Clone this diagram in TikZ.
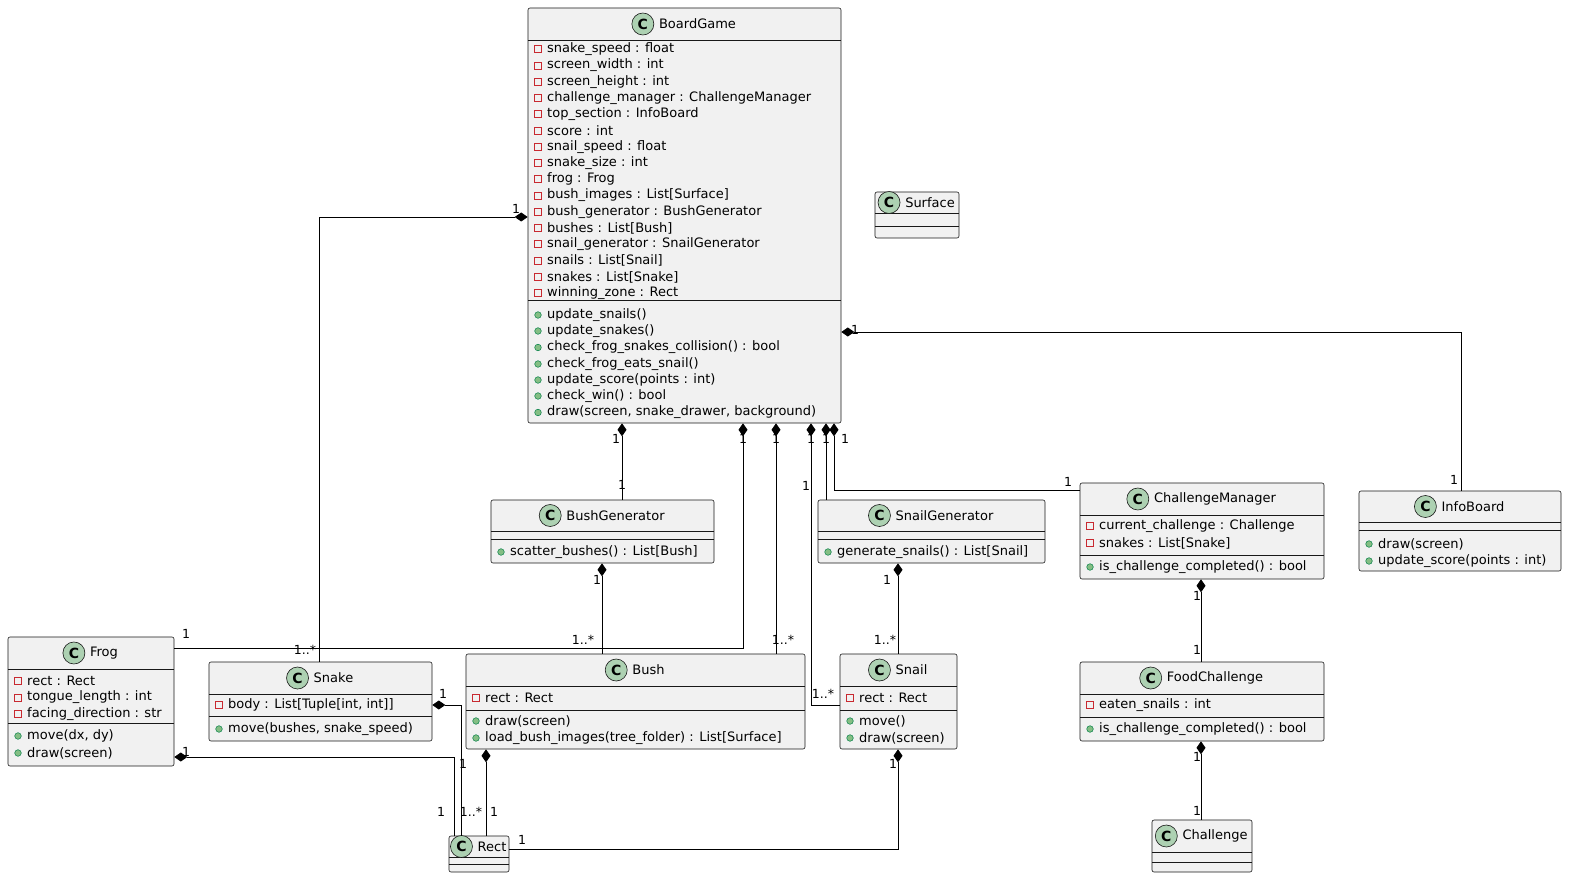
\documentclass[tikz,border=0pt]{standalone}
\usepackage{fontspec}
\setmainfont{DejaVu Sans}
\usetikzlibrary{arrows.meta}
\definecolor{boxfill}{HTML}{F1F1F1}
\definecolor{boxline}{HTML}{181818}
\definecolor{icon}{HTML}{ADD1B2}
\definecolor{privc}{HTML}{C82930}
\definecolor{pubf}{HTML}{84BE84}
\definecolor{pubd}{HTML}{038048}
\tikzset{
  box/.style={draw=boxline, fill=boxfill, line width=0.6pt, rounded corners=2pt, inner sep=0pt},
  ttl/.style={font=\fontsize{13}{15}\selectfont, inner sep=0pt},
  mtxt/.style={font=\fontsize{13}{15}\selectfont, inner sep=0pt, anchor=west},
  cicon/.style={circle, draw=boxline, fill=icon, line width=0.6pt, minimum size=22pt, inner sep=0pt, font=\fontsize{14}{14}\selectfont\bfseries},
  lbl/.style={font=\fontsize{12.5}{14}\selectfont, inner sep=0pt},
  comp/.style={draw=black, line width=0.9pt, {Diamond[length=13pt,width=9pt,fill=black]}-},
}
\newcommand\cls[8]{%
  \node[box, minimum width={(#4-#2)*1pt}, minimum height={(#5-#3)*1pt}] (#1) at ({(#2+#4)/2},{(#3+#5)/2}) {};
  \draw[boxline, line width=0.6pt] (#2,#7) -- (#4,#7) (#2,#8) -- (#4,#8);
  \node[ttl] (#1t) at ({(#2+#4)/2+13},{(#3+#7)/2}) {#6};
  \node[cicon] at ([xshift=-16pt]#1t.west) {C};
}
\newcommand\priv[3]{\draw[privc, line width=0.6pt] (#1+10-3.5,#2-3.5) rectangle (#1+10+3.5,#2+3.5); \node[mtxt] at (#1+19,#2) {#3};}
\newcommand\pub[3]{\draw[pubd, fill=pubf, line width=0.5pt] (#1+10,#2) circle (3.3pt); \node[mtxt] at (#1+19,#2) {#3};}
\begin{document}
\begin{tikzpicture}[x=1pt,y=-1pt]
\useasboundingbox[fill=white] (0,0) rectangle (1589,890);
% BoardGame
\cls{BoardGame}{528}{8}{841}{423}{BoardGame}{40}{300}
\priv{528}{49}{snake\_speed : float}
\priv{528}{65.5}{screen\_width : int}
\priv{528}{82}{screen\_height : int}
\priv{528}{98}{challenge\_manager : ChallengeManager}
\priv{528}{114}{top\_section : InfoBoard}
\priv{528}{130.5}{score : int}
\priv{528}{147}{snail\_speed : float}
\priv{528}{163}{snake\_size : int}
\priv{528}{179}{frog : Frog}
\priv{528}{195.5}{bush\_images : List[Surface]}
\priv{528}{212}{bush\_generator : BushGenerator}
\priv{528}{228}{bushes : List[Bush]}
\priv{528}{244}{snail\_generator : SnailGenerator}
\priv{528}{260.5}{snails : List[Snail]}
\priv{528}{277}{snakes : List[Snake]}
\priv{528}{293}{winning\_zone : Rect}
\pub{528}{315}{update\_snails()}
\pub{528}{331}{update\_snakes()}
\pub{528}{347.5}{check\_frog\_snakes\_collision() : bool}
\pub{528}{364}{check\_frog\_eats\_snail()}
\pub{528}{380}{update\_score(points : int)}
\pub{528}{396}{check\_win() : bool}
\pub{528}{412.5}{draw(screen, snake\_drawer, background)}
% Surface
\cls{Surface}{875}{192}{959}{238}{Surface}{213}{226}
% BushGenerator
\cls{BushGenerator}{491}{500}{714}{563}{BushGenerator}{531}{539}
\pub{491}{552}{scatter\_bushes() : List[Bush]}
% SnailGenerator
\cls{SnailGenerator}{818}{500}{1045}{563}{SnailGenerator}{531}{539}
\pub{818}{552}{generate\_snails() : List[Snail]}
% ChallengeManager
\cls{ChallengeManager}{1080}{483}{1324}{579}{ChallengeManager}{515}{555}
\priv{1080}{526}{current\_challenge : Challenge}
\priv{1080}{543}{snakes : List[Snake]}
\pub{1080}{567}{is\_challenge\_completed() : bool}
% InfoBoard
\cls{InfoBoard}{1359}{491}{1561}{571}{InfoBoard}{522}{530}
\pub{1359}{544}{draw(screen)}
\pub{1359}{561}{update\_score(points : int)}
% Frog
\cls{Frog}{8}{637}{174}{766}{Frog}{669}{723}
\priv{8}{681}{rect : Rect}
\priv{8}{697.5}{tongue\_length : int}
\priv{8}{714}{facing\_direction : str}
\pub{8}{736}{move(dx, dy)}
\pub{8}{753}{draw(screen)}
% Snake
\cls{Snake}{209}{662}{432}{741}{Snake}{694}{716}
\priv{209}{705}{body : List[Tuple[int, int]]}
\pub{209}{729}{move(bushes, snake\_speed)}
% Bush
\cls{Bush}{466}{654}{805}{749}{Bush}{686}{710}
\priv{466}{698}{rect : Rect}
\pub{466}{721}{draw(screen)}
\pub{466}{738}{load\_bush\_images(tree\_folder) : List[Surface]}
% Snail
\cls{Snail}{840}{654}{957}{749}{Snail}{686}{710}
\priv{840}{698}{rect : Rect}
\pub{840}{721}{move()}
\pub{840}{738}{draw(screen)}
% FoodChallenge
\cls{FoodChallenge}{1080}{662}{1324}{741}{FoodChallenge}{694}{717}
\priv{1080}{705}{eaten\_snails : int}
\pub{1080}{729}{is\_challenge\_completed() : bool}
% Rect
\cls{Rect}{449}{836}{509}{872}{Rect}{857}{864}
% Challenge
\cls{Challenge}{1152}{820}{1252}{872}{Challenge}{852}{862}

% connectors
\draw[comp] (BoardGame.west |- 0,217) -- (319,217) -- (319,0 |- Snake.north);
\draw[comp] (622,0 |- BoardGame.south) -- (622,0 |- BushGenerator.north);
\draw[comp] (743,0 |- BoardGame.south) -- (743,648) -- (Frog.east |- 0,648);
\draw[comp] (776,0 |- BoardGame.south) -- (776,0 |- Bush.north);
\draw[comp] (811,0 |- BoardGame.south) -- (811,705) -- (Snail.west |- 0,705);
\draw[comp] (826,0 |- BoardGame.south) -- (826,0 |- SnailGenerator.north);
\draw[comp] (834,0 |- BoardGame.south) -- (834,490) -- (ChallengeManager.west |- 0,490);
\draw[comp] (BoardGame.east |- 0,332) -- (1461,332) -- (1461,0 |- InfoBoard.north);
\draw[comp] (602,0 |- BushGenerator.south) -- (602,0 |- Bush.north);
\draw[comp] (898,0 |- SnailGenerator.south) -- (898,0 |- Snail.north);
\draw[comp] (1201,0 |- ChallengeManager.south) -- (1201,0 |- FoodChallenge.north);
\draw[comp] (1201,0 |- FoodChallenge.south) -- (1201,0 |- Challenge.north);
\draw[comp] (Snake.east |- 0,705) -- (461,705) -- (461,0 |- Rect.north);
\draw[comp] (Frog.east |- 0,757) -- (454,757) -- (454,0 |- Rect.north);
\draw[comp] (486,0 |- Bush.south) -- (486,0 |- Rect.north);
\draw[comp] (898,0 |- Snail.south) -- (898,849) -- (Rect.east |- 0,849);

% multiplicities
\node[lbl] at (516,209) {1};
\node[lbl] at (305,650) {1..*};
\node[lbl] at (616,439) {1};
\node[lbl] at (622,485) {1};
\node[lbl] at (743,439) {1};
\node[lbl] at (186,634) {1};
\node[lbl] at (583,640) {1..*};
\node[lbl] at (776,439) {1};
\node[lbl] at (783,640) {1..*};
\node[lbl] at (811,439) {1};
\node[lbl] at (806,486) {1};
\node[lbl] at (823,694) {1..*};
\node[lbl] at (826,439) {1};
\node[lbl] at (845,439) {1};
\node[lbl] at (1068,482) {1};
\node[lbl] at (855,330) {1};
\node[lbl] at (1454,480) {1};
\node[lbl] at (597,580) {1};
\node[lbl] at (887,580) {1};
\node[lbl] at (885,640) {1..*};
\node[lbl] at (1197,596) {1};
\node[lbl] at (1197,650) {1};
\node[lbl] at (1197,757) {1};
\node[lbl] at (1197,811) {1};
\node[lbl] at (443,694) {1};
\node[lbl] at (463,764) {1};
\node[lbl] at (471,812) {1..*};
\node[lbl] at (186,752) {1};
\node[lbl] at (441,812) {1};
\node[lbl] at (494,812) {1};
\node[lbl] at (893,764) {1};
\node[lbl] at (522,840) {1};
\end{tikzpicture}
\end{document}
